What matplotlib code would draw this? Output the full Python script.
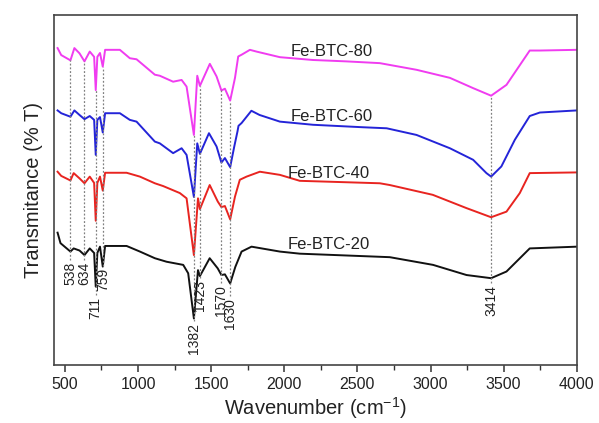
import numpy as np
import matplotlib
matplotlib.use("Agg")
import matplotlib.pyplot as plt
from matplotlib.ticker import MultipleLocator

plt.rcParams['font.family'] = ['Liberation Sans', 'DejaVu Sans']

# wavenumber (cm-1) and transmittance (arbitrary, offset)
wn_80 = [450, 475, 538, 565, 600, 634, 670, 700, 711, 722, 740, 759, 775, 876, 944, 990,
         1115, 1149, 1240, 1298, 1332, 1382, 1405, 1423, 1491, 1537, 1570, 1594, 1630, 1663,
         1685, 1708, 1765, 1810, 1970, 2195, 2425, 2653, 2904, 3132, 3289, 3414, 3519, 3678,
         3747, 4000]
t_80 = [90.5, 88.5, 87.0, 90.5, 89.0, 86.7, 89.5, 88.0, 78.5, 88.0, 89.1, 85.2, 90.0, 90.0,
        87.6, 87.3, 82.9, 82.6, 80.9, 81.4, 79.5, 65.7, 82.6, 79.7, 86.0, 82.4, 78.4, 78.9,
        75.5, 82.0, 88.1, 88.6, 90.0, 89.5, 87.9, 87.1, 86.7, 86.2, 84.3, 82.0, 79.1, 76.9,
        80.0, 89.8, 89.8, 90.0]

wn_60 = [450, 475, 538, 565, 600, 634, 670, 700, 711, 722, 740, 759, 775, 876, 944, 990,
         1115, 1149, 1240, 1298, 1332, 1382, 1405, 1423, 1485, 1537, 1570, 1594, 1630, 1658,
         1680, 1687, 1708, 1775, 1831, 1970, 2197, 2535, 2700, 2904, 3132, 3291, 3382, 3414,
         3484, 3576, 3678, 3747, 4000]
t_60 = [72.7, 71.9, 70.9, 72.7, 71.4, 70.2, 71.1, 70.0, 60.0, 70.0, 70.8, 66.4, 71.9, 71.9,
        70.0, 69.5, 63.8, 63.3, 60.5, 61.9, 60.0, 48.0, 63.3, 60.3, 66.2, 62.4, 57.8, 59.1,
        56.5, 62.4, 66.7, 68.3, 69.1, 72.6, 71.4, 69.5, 68.6, 67.9, 67.6, 65.7, 61.9, 58.6,
        54.8, 53.8, 56.7, 64.3, 71.1, 72.1, 72.7]

wn_40 = [450, 475, 538, 560, 600, 634, 670, 700, 711, 722, 740, 759, 775, 922, 1013, 1115,
         1172, 1286, 1332, 1382, 1410, 1423, 1490, 1545, 1570, 1594, 1630, 1663, 1696, 1742,
         1833, 1970, 2106, 2653, 2721, 3015, 3246, 3414, 3519, 3610, 3678, 4000]
t_40 = [55.2, 54.0, 52.7, 54.8, 53.3, 51.9, 53.8, 52.0, 41.2, 52.0, 53.8, 49.8, 54.9, 54.9,
        53.8, 51.9, 51.1, 49.1, 47.6, 31.4, 47.6, 44.5, 51.4, 46.7, 45.1, 45.4, 41.6, 48.1,
        52.9, 53.8, 55.2, 54.3, 52.6, 51.9, 51.4, 48.6, 44.8, 42.2, 43.8, 49.1, 54.8, 55.0]

wn_20 = [450, 470, 538, 560, 600, 634, 670, 700, 711, 722, 740, 759, 775, 922, 1013, 1115,
         1195, 1309, 1343, 1382, 1410, 1423, 1490, 1545, 1570, 1594, 1630, 1665, 1708, 1776,
         1970, 2106, 2721, 3017, 3246, 3414, 3519, 3678, 4000]
t_20 = [37.8, 34.8, 32.4, 33.3, 32.7, 31.4, 33.3, 32.0, 22.4, 32.0, 33.8, 28.1, 34.0, 34.0,
        32.4, 30.5, 29.5, 28.6, 26.2, 13.3, 27.1, 25.4, 30.5, 27.6, 25.7, 25.9, 23.3, 28.0,
        32.4, 33.8, 32.4, 31.8, 30.8, 28.6, 25.7, 24.8, 26.7, 33.3, 33.8]

names = ['Fe-BTC-80', 'Fe-BTC-60', 'Fe-BTC-40', 'Fe-BTC-20']
peaks = [538, 634, 711, 759, 1382, 1423, 1570, 1630, 3414]

# layout: where the names and the peak numbers sit
name_pos = [(2045, 89.4), (2045, 70.9), (2024, 54.7), (2024, 34.4)]
peak_label_top = [29.4, 29.4, 19.4, 27.7, 12.0, 24.3, 22.9, 19.1, 22.9]
colors = ['#f03cf0', '#2424d8', '#e82420', '#111111']

fig = plt.figure(figsize=(5.99, 4.23), dpi=100)
ax = fig.add_axes([0.090, 0.137, 0.873, 0.828])

series = [(wn_80, t_80), (wn_60, t_60), (wn_40, t_40), (wn_20, t_20)]
for (x, y), c, name, (tx, ty) in zip(series, colors, names, name_pos):
    ax.plot(x, y, color=c, lw=1.4)
    ax.text(tx, ty, name, fontsize=12, color='#222222', va='center', ha='left')

# dotted guide lines from the top spectrum down to the peak labels
for p, top in zip(peaks, peak_label_top):
    y_top = np.interp(p, wn_80, t_80)
    ax.plot([p, p], [top + 0.5, y_top], ls=(0, (1.5, 1.5)), color='#808080', lw=0.9)
    ax.text(p, top, str(p), rotation=90, fontsize=10, ha='center', va='top', color='#222222')

ax.set_xlim(425, 4000)
ax.set_ylim(0, 100)
ax.set_yticks([])
ax.xaxis.set_major_locator(MultipleLocator(500))
ax.xaxis.set_minor_locator(MultipleLocator(250))
ax.tick_params(axis='x', which='major', direction='out', length=5, width=1.1,
               labelsize=11.5, colors='#333333', labelcolor='#222222')
ax.tick_params(axis='x', which='minor', direction='out', length=3.5, width=1.0, colors='#333333')
for s in ax.spines.values():
    s.set_color('#444444')
    s.set_linewidth(1.2)

ax.set_xlabel('Wavenumber (cm$^{\\mathregular{-1}}$)', fontsize=14.5, color='#222222', labelpad=2)
ax.set_ylabel('Transmitance (% T)', fontsize=14.5, color='#222222', labelpad=8)

fig.savefig('out.png', dpi=100)
